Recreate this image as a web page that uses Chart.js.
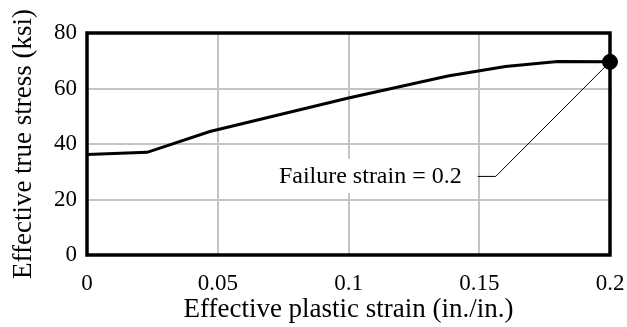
<!DOCTYPE html>
<html>
<head>
<meta charset="utf-8">
<script src="https://cdn.jsdelivr.net/npm/chart.js@4/dist/chart.umd.min.js"></script>
<style>
  html, body { margin: 0; padding: 0; background: #fff; }
  #wrap { width: 627px; height: 327px; }
</style>
</head>
<body>
<div id="wrap"><canvas id="chart"></canvas></div>
<script>
// values
const strain = [0, 0.023, 0.047, 0.1, 0.138, 0.16, 0.18, 0.2];
const stress = [36.2, 37, 44.5, 56.6, 64.5, 67.9, 69.7, 69.6];
const failureStrain = [0.2];
const failureStress = [69.6];
const xTicks = [0, 0.05, 0.1, 0.15, 0.2];
const yTicks = [0, 20, 40, 60, 80];
const calloutText = 'Failure strain = 0.2';
// where the callout label ends and where the leader bends, in data units
const calloutEnd = { x: 0.1433, y: 28.5 };
const calloutElbow = { x: 0.1563, y: 28.5 };

const FONT = '"Liberation Serif", "Times New Roman", serif';

// thick black box round the plot area
const framePlugin = {
  id: 'frame',
  beforeDatasetsDraw(chart) {
    const { ctx, chartArea: a } = chart;
    ctx.save();
    ctx.strokeStyle = '#000';
    ctx.lineWidth = 3.5;
    ctx.strokeRect(a.left, a.top, a.right - a.left, a.bottom - a.top);
    ctx.restore();
  }
};

// label with white box and a leader line to the failure point
const calloutPlugin = {
  id: 'callout',
  afterDatasetsDraw(chart) {
    const { ctx, scales } = chart;
    const x = scales.x, y = scales.y;
    const tx = x.getPixelForValue(calloutEnd.x);
    const ty = y.getPixelForValue(calloutEnd.y);
    const ex = x.getPixelForValue(calloutElbow.x);
    const ey = y.getPixelForValue(calloutElbow.y);
    const px = x.getPixelForValue(failureStrain[0]);
    const py = y.getPixelForValue(failureStress[0]);

    ctx.save();
    ctx.font = '24px ' + FONT;
    const w = ctx.measureText(calloutText).width;
    ctx.fillStyle = '#fff';
    ctx.fillRect(tx - w - 5, ty - 17, w + 10, 34);
    ctx.fillStyle = '#000';
    ctx.textAlign = 'right';
    ctx.textBaseline = 'middle';
    ctx.fillText(calloutText, tx, ty + 1);

    ctx.strokeStyle = '#000';
    ctx.lineWidth = 1;
    ctx.beginPath();
    ctx.moveTo(tx + 16, ty + 0.5);
    ctx.lineTo(ex, ey + 0.5);
    ctx.lineTo(px, py);
    ctx.stroke();
    ctx.restore();
  }
};

const ctx = document.getElementById('chart').getContext('2d');
new Chart(ctx, {
  type: 'scatter',
  data: {
    datasets: [
      {
        data: failureStrain.map((v, i) => ({ x: v, y: failureStress[i] })),
        pointRadius: 7.5,
        pointBorderWidth: 1,
        pointBackgroundColor: '#000',
        pointBorderColor: '#000',
        clip: false,
        order: 0
      },
      {
        type: 'line',
        data: strain.map((v, i) => ({ x: v, y: stress[i] })),
        borderColor: '#000',
        borderWidth: 3,
        pointRadius: 0,
        tension: 0,
        fill: false,
        order: 1
      }
    ]
  },
  options: {
    responsive: true,
    maintainAspectRatio: false,
    animation: false,
    layout: { padding: { left: 0, right: 17, top: 33, bottom: 0 } },
    plugins: {
      legend: { display: false },
      tooltip: { enabled: false }
    },
    scales: {
      x: {
        type: 'linear',
        min: 0,
        max: 0.2,
        afterBuildTicks: s => { s.ticks = xTicks.map(v => ({ value: v })); },
        afterFit: s => { s.height = 72; s.paddingRight = 0; s.paddingLeft = 0; },
        grid: { color: '#c4c4c4', lineWidth: 2, drawTicks: false },
        border: { display: false },
        ticks: {
          color: '#000',
          padding: 15,
          font: { family: FONT, size: 23 },
          callback: v => String(v)
        },
        title: {
          display: true,
          text: 'Effective plastic strain (in./in.)',
          color: '#000',
          font: { family: FONT, size: 27 },
          padding: { top: 1, bottom: 1 }
        }
      },
      y: {
        min: 0,
        max: 80,
        afterBuildTicks: s => { s.ticks = yTicks.map(v => ({ value: v })); },
        afterFit: s => { s.width = 87; s.paddingTop = 0; s.paddingBottom = 0; },
        grid: { color: '#c4c4c4', lineWidth: 2, drawTicks: false },
        border: { display: false },
        ticks: {
          color: '#000',
          padding: 10,
          font: { family: FONT, size: 23 }
        },
        title: {
          display: true,
          text: 'Effective true stress (ksi)',
          color: '#000',
          font: { family: FONT, size: 27 },
          padding: { top: 8, bottom: 8 }
        }
      }
    }
  },
  plugins: [framePlugin, calloutPlugin]
});
</script>
</body>
</html>
